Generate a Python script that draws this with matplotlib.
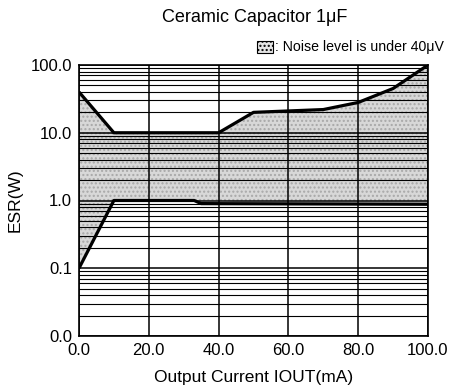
import matplotlib.pyplot as plt
from matplotlib.patches import Rectangle

plt.rcParams['font.family'] = ['Liberation Sans', 'DejaVu Sans']

# upper / lower limit of the stable ESR region
upper_x = [0, 10, 40, 50, 70, 80, 90, 100]
upper_y = [40, 10, 10, 20, 22, 28, 45, 100]
lower_x = [0, 10, 33, 35, 100]
lower_y = [0.1, 1.0, 1.0, 0.9, 0.88]

x_ticks = [0, 20, 40, 60, 80, 100]
x_labels = ['0.0', '20.0', '40.0', '60.0', '80.0', '100.0']
y_ticks = [0.01, 0.1, 1, 10, 100]
y_labels = ['0.0', '0.1', '1.0', '10.0', '100.0']

fig = plt.figure(figsize=(4.51, 3.92), dpi=100)
ax = fig.add_axes([79 / 451, 56 / 392, 349 / 451, 271 / 392])

ax.set_yscale('log')
ax.set_xlim(0, 100)
ax.set_ylim(0.01, 100)

# shaded region (stippled gray) between the two limit curves
ax.fill_between(upper_x, upper_y, [40, 1.0, 1.0, 0.9, 0.9, 0.89, 0.885, 0.88],
                facecolor='#d8d8d8', edgecolor='#a8a8a8', hatch='....',
                linewidth=0, zorder=1)
ax.fill_between([0, 10], [0.1, 1.0], [40, 10], facecolor='#d8d8d8',
                edgecolor='#a8a8a8', hatch='....', linewidth=0, zorder=1)

ax.plot(upper_x, upper_y, color='black', lw=2.3, zorder=4, solid_capstyle='butt')
ax.plot(lower_x, lower_y, color='black', lw=2.3, zorder=4, solid_capstyle='butt')

ax.set_xticks(x_ticks)
ax.set_xticklabels(x_labels, fontsize=12)
ax.set_yticks(y_ticks)
ax.set_yticklabels(y_labels, fontsize=12)
ax.tick_params(axis='y', length=0, pad=5)
ax.tick_params(axis='x', length=0, pad=5)
ax.grid(True, which='major', axis='both', color='black', lw=1.1, zorder=2)
ax.grid(True, which='minor', axis='y', color='black', lw=0.8, zorder=2)
ax.tick_params(which='minor', length=0)
ax.set_axisbelow(False)
for s in ax.spines.values():
    s.set_linewidth(1.2)

ax.set_xlabel('Output Current IOUT(mA)', fontsize=12.5, labelpad=9)
ax.set_ylabel('ESR(W)', fontsize=12.5, labelpad=6)

fig.text(255 / 451, 1 - 17 / 392, 'Ceramic Capacitor 1\u03bcF', ha='center', va='center',
         fontsize=13)
fig.patches.append(Rectangle((257 / 451, 1 - 53 / 392), 16 / 451, 12 / 392,
                             transform=fig.transFigure, facecolor='#e4e4e4',
                             edgecolor='black', hatch='....', lw=0.8))
fig.text(275 / 451, 1 - 47 / 392, ': Noise level is under 40\u03bcV', ha='left', va='center',
         fontsize=10.2)

fig.savefig('out.png', dpi=100)
